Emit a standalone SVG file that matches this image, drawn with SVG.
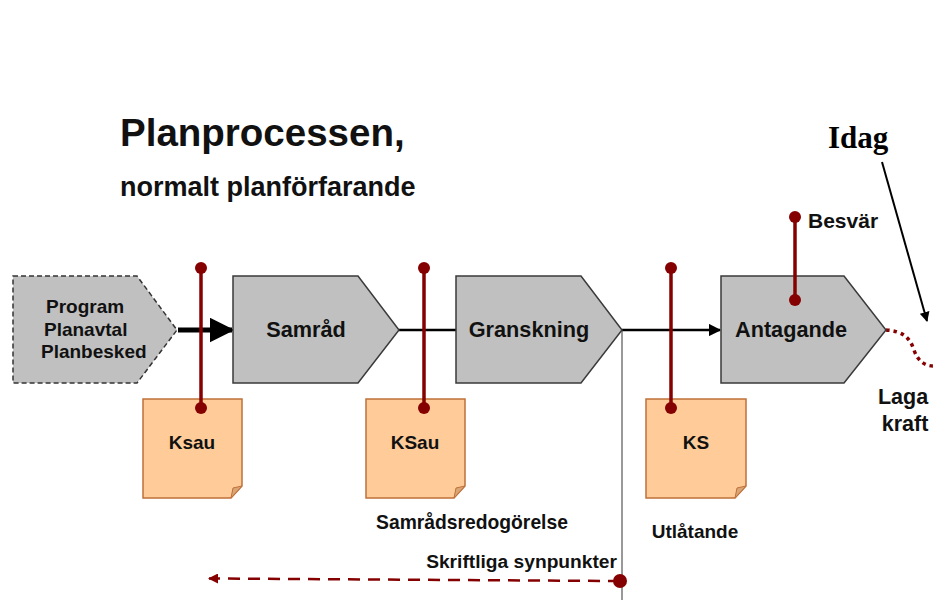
<svg xmlns="http://www.w3.org/2000/svg" width="933" height="600" viewBox="0 0 933 600">
<defs>
<style>
.t{font-family:"Liberation Sans",Arial,sans-serif;font-weight:bold;fill:#111}
.box{fill:#c0c0c0;stroke:#3a3a3a;stroke-width:1.5}
.note{fill:#ffcc99;stroke:#c0703a;stroke-width:1.5}
.fold{fill:#d9a574;stroke:#c0703a;stroke-width:1}
.pin{stroke:#850000;stroke-width:3.5}
.dot{fill:#850000}
</style>
<marker id="ah" viewBox="0 0 10 10" refX="9" refY="5" markerWidth="5" markerHeight="5" orient="auto" markerUnits="strokeWidth"><path d="M0,0L10,5L0,10Z" fill="#000"/></marker>
<marker id="ahr" viewBox="0 0 10 10" refX="9" refY="5" markerWidth="4" markerHeight="4" orient="auto" markerUnits="strokeWidth"><path d="M0,0L10,5L0,10Z" fill="#850000"/></marker>
</defs>
<rect width="933" height="600" fill="#fff"/>

<text class="t" x="120" y="146" font-size="38.5">Planprocessen,</text>
<text class="t" x="120" y="196" font-size="27">normalt planförfarande</text>
<text x="828" y="148" font-family="Liberation Serif,'Times New Roman',serif" font-weight="bold" font-size="31" fill="#000">Idag</text>

<g id="connectors">
<line x1="178" y1="330" x2="232" y2="330" stroke="#000" stroke-width="5" marker-end="url(#ah)"/>
<line x1="399" y1="330" x2="457" y2="330" stroke="#000" stroke-width="2.5"/>
<line x1="622" y1="330" x2="720" y2="330" stroke="#000" stroke-width="2.5" marker-end="url(#ah)"/>
<line x1="622" y1="330" x2="622" y2="600" stroke="#333" stroke-width="1"/>
<path d="M886,330 C903,331 910,338 914,350 C918,362 926,366 933,366" fill="none" stroke="#850000" stroke-width="3.5" stroke-dasharray="3.5,4"/>
<line x1="882" y1="162" x2="927" y2="321" stroke="#000" stroke-width="2" marker-end="url(#ah)"/>
<line x1="620" y1="581" x2="209" y2="578.5" stroke="#850000" stroke-width="2.5" stroke-dasharray="12,8" marker-end="url(#ahr)"/>
<circle class="dot" cx="620" cy="581" r="7"/>
</g>

<g id="program">
<path d="M13,276 H137 L177,330 L137,383 H13 Z" fill="#c0c0c0" stroke="#333" stroke-width="1.5" stroke-dasharray="5,3"/>
<text class="t" x="46" y="313" font-size="19">Program</text>
<text class="t" x="44" y="336" font-size="19">Planavtal</text>
<text class="t" x="41" y="358" font-size="19">Planbesked</text>
</g>

<g id="samrad">
<path class="box" d="M233,276 H358 L399,330 L358,383 H233 Z"/>
<text class="t" x="306" y="337" font-size="21.7" text-anchor="middle">Samråd</text>
</g>

<g id="granskning">
<path class="box" d="M456,276 H581 L622,330 L581,383 H456 Z"/>
<text class="t" x="529" y="337" font-size="21.7" text-anchor="middle">Granskning</text>
</g>

<g id="antagande">
<path class="box" d="M721,276 H844 L886,330 L844,383 H721 Z"/>
<text class="t" x="791" y="337" font-size="21.7" text-anchor="middle">Antagande</text>
</g>

<g id="besvar">
<line class="pin" x1="795" y1="217" x2="795" y2="300"/>
<circle class="dot" cx="795" cy="217" r="6"/>
<circle class="dot" cx="795" cy="300" r="6"/>
<text class="t" x="808" y="228" font-size="21">Besvär</text>
</g>

<g id="laga-kraft">
<text class="t" x="903" y="404" font-size="21.5" text-anchor="middle">Laga</text>
<text class="t" x="905" y="431" font-size="21.5" text-anchor="middle">kraft</text>
</g>

<g id="note-ksau">
<path class="note" d="M143,399 H242 V486 L231,498 H143 Z"/>
<path class="fold" d="M231,498 L233,488 L242,486 Z"/>
<line class="pin" x1="201" y1="268" x2="201" y2="408"/>
<circle class="dot" cx="201" cy="268" r="6"/>
<circle class="dot" cx="201" cy="408" r="6"/>
<text class="t" x="192" y="449" font-size="19" text-anchor="middle">Ksau</text>
</g>

<g id="note-ksau2">
<path class="note" d="M366,399 H465 V486 L454,498 H366 Z"/>
<path class="fold" d="M454,498 L456,488 L465,486 Z"/>
<line class="pin" x1="424" y1="268" x2="424" y2="408"/>
<circle class="dot" cx="424" cy="268" r="6"/>
<circle class="dot" cx="424" cy="408" r="6"/>
<text class="t" x="415" y="449" font-size="19" text-anchor="middle">KSau</text>
<text class="t" x="472" y="529" font-size="19.3" text-anchor="middle">Samrådsredogörelse</text>
</g>

<g id="note-ks">
<path class="note" d="M646,399 H746 V486 L735,498 H646 Z"/>
<path class="fold" d="M735,498 L737,488 L746,486 Z"/>
<line class="pin" x1="671" y1="268" x2="671" y2="408"/>
<circle class="dot" cx="671" cy="268" r="6"/>
<circle class="dot" cx="671" cy="408" r="6"/>
<text class="t" x="696" y="449" font-size="19" text-anchor="middle">KS</text>
<text class="t" x="695" y="538" font-size="19" text-anchor="middle">Utlåtande</text>
</g>

<text class="t" x="617" y="568" font-size="19.2" text-anchor="end">Skriftliga synpunkter</text>
</svg>
